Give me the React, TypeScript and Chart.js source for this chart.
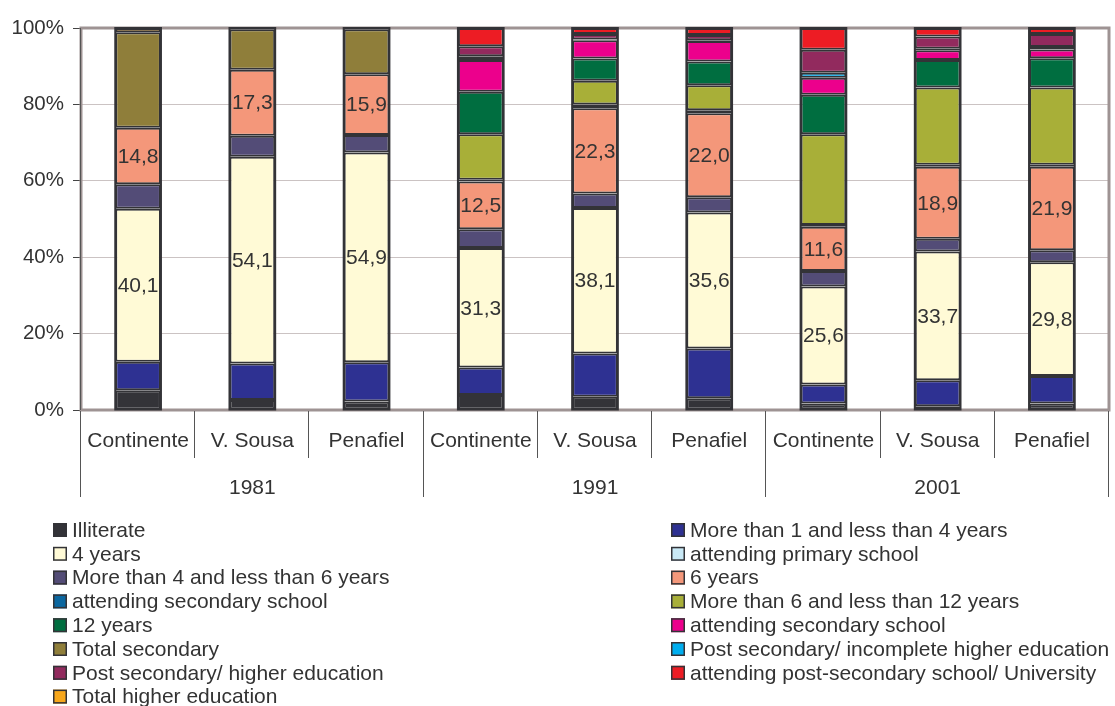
import React, { useEffect, useRef } from 'react';
import { Chart, registerables } from 'chart.js';

Chart.register(...registerables);

const categories = ['Continente', 'V. Sousa', 'Penafiel', 'Continente', 'V. Sousa', 'Penafiel', 'Continente', 'V. Sousa', 'Penafiel'];
const years = ['1981', '1991', '2001'];
const yTickValues = [0, 20, 40, 60, 80, 100];

const illiterate = [5.2, 2.6, 2.2, 3.9, 3.5, 3.1, 1.7, 1.0, 1.7];
const oneToFour = [7.4, 9.6, 10.3, 7.2, 11.3, 13.0, 5.0, 6.8, 7.2];
const fourYears = [40.1, 54.1, 54.9, 31.3, 38.1, 35.6, 25.6, 33.7, 29.8];
const attendingPrimary = [0, 0, 0, 0, 0, 0, 0, 0, 0];
const fourToSix = [6.4, 5.5, 4.6, 4.9, 3.8, 4.0, 4.1, 3.3, 3.1];
const sixYears = [14.8, 17.3, 15.9, 12.5, 22.3, 22.0, 11.6, 18.9, 21.9];
const attendingSecondaryA = [0, 0, 0, 0.5, 1.0, 0.8, 0.4, 0.5, 0.5];
const sixToTwelve = [0, 0, 0, 11.9, 6.2, 6.5, 23.8, 20.2, 20.2];
const twelveYears = [0, 0, 0, 11.1, 5.8, 6.2, 10.3, 7.2, 7.7];
const attendingSecondaryB = [0, 0, 0, 8.3, 4.8, 5.4, 4.5, 2.6, 2.3];
const totalSecondary = [25.0, 10.6, 11.8, 0, 0, 0, 0, 0, 0];
const postSecIncomplete = [0, 0, 0, 1.0, 0.2, 0.2, 1.3, 0.4, 0.6];
const postSecHigher = [0, 0, 0, 2.6, 1.4, 1.4, 6.0, 3.2, 3.4];
const attendingUniversity = [0, 0, 0, 4.8, 1.6, 1.8, 5.7, 2.2, 1.6];
const totalHigher = [1.1, 0.3, 0.3, 0, 0, 0, 0, 0, 0];

const seriesLabels = [
  'Illiterate',
  'More than 1 and less than 4 years',
  '4 years',
  'attending primary school',
  'More than 4 and less than 6 years',
  '6 years',
  'attending secondary school',
  'More than 6 and less than 12 years',
  '12 years',
  'attending secondary school',
  'Total secondary',
  'Post secondary/ incomplete higher education',
  'Post secondary/ higher education',
  'attending post-secondary school/ University',
  'Total higher education',
];
const seriesValues = [
  illiterate, oneToFour, fourYears, attendingPrimary, fourToSix, sixYears,
  attendingSecondaryA, sixToTwelve, twelveYears, attendingSecondaryB,
  totalSecondary, postSecIncomplete, postSecHigher, attendingUniversity, totalHigher,
];
const seriesColors = [
  '#333338', '#2E3192', '#FFFAD6', '#C9E9F6', '#534C77', '#F4977A',
  '#0B67A0', '#A8AF38', '#006E40', '#EC008C',
  '#8F7E3A', '#00AEEF', '#922A5E', '#ED1C24', '#F7A71C',
];
const labelledSeries = ['4 years', '6 years'];

const FONT = '"Liberation Sans", Arial, Helvetica, sans-serif';
const TEXT = '#333333';
const EDGE = '#333337';

const decorPlugin = {
  id: 'decor',
  beforeDatasetsDraw(chart: any) {
    const { ctx, chartArea: a } = chart;
    ctx.save();
    ctx.strokeStyle = '#9E9393';
    ctx.lineWidth = 3;
    ctx.strokeRect(a.left, a.top, a.right - a.left, a.bottom - a.top);
    ctx.restore();
  },
  afterDatasetsDraw(chart: any) {
    const { ctx } = chart;
    ctx.save();
    // outer outline of each stacked bar
    const n = chart.data.labels.length;
    for (let i = 0; i < n; i++) {
      let top = Infinity;
      let bottom = -Infinity;
      let left = 0;
      let right = 0;
      chart.data.datasets.forEach((d: any, di: number) => {
        const el: any = chart.getDatasetMeta(di).data[i];
        if (!el || d.data[i] == null) return;
        top = Math.min(top, el.y, el.base);
        bottom = Math.max(bottom, el.y, el.base);
        left = el.x - el.width / 2;
        right = el.x + el.width / 2;
      });
      if (top === Infinity) continue;
      ctx.strokeStyle = EDGE;
      ctx.lineWidth = 2;
      ctx.strokeRect(left, top, right - left, bottom - top);
    }
    // value labels
    ctx.font = `21px ${FONT}`;
    ctx.fillStyle = TEXT;
    ctx.textAlign = 'center';
    ctx.textBaseline = 'middle';
    chart.data.datasets.forEach((d: any, di: number) => {
      if (!labelledSeries.includes(d.label)) return;
      const meta = chart.getDatasetMeta(di);
      meta.data.forEach((el: any, i: number) => {
        const v = d.data[i];
        if (!v) return;
        const txt = Number(v).toFixed(1).replace('.', ',');
        ctx.fillText(txt, el.x, (el.y + el.base) / 2 + 1);
      });
    });
    ctx.restore();
  },
  afterDraw(chart: any) {
    const { ctx, chartArea: a } = chart;
    const xs = chart.scales.x;
    ctx.save();
    const half = (xs.getPixelForValue(1) - xs.getPixelForValue(0)) / 2;
    ctx.strokeStyle = '#555555';
    ctx.lineWidth = 1;
    for (let i = 0; i <= categories.length; i++) {
      const x = Math.round(xs.getPixelForValue(0) - half + i * half * 2) - 0.5;
      const long = i % 3 === 0;
      ctx.beginPath();
      ctx.moveTo(x, a.bottom + 1);
      ctx.lineTo(x, long ? 497 : 458);
      ctx.stroke();
    }
    ctx.beginPath();
    ctx.moveTo(a.left - 0.5, a.top);
    ctx.lineTo(a.left - 0.5, a.bottom);
    ctx.stroke();
    ctx.font = `21px ${FONT}`;
    ctx.fillStyle = TEXT;
    ctx.textAlign = 'center';
    ctx.textBaseline = 'middle';
    categories.forEach((c, i) => ctx.fillText(c, xs.getPixelForValue(i), 441));
    years.forEach((y, g) => {
      const cx = (xs.getPixelForValue(g * 3) + xs.getPixelForValue(g * 3 + 2)) / 2;
      ctx.fillText(y, cx, 488);
    });
    ctx.textAlign = 'left';
    chart.data.datasets.forEach((d: any, i: number) => {
      const col = i % 2;
      const row = Math.floor(i / 2);
      const bx = col === 0 ? 53 : 671;
      const cy = 530 + row * 23.8;
      ctx.fillStyle = d.backgroundColor;
      ctx.fillRect(bx, cy - 7, 14, 14);
      ctx.strokeStyle = EDGE;
      ctx.lineWidth = 1.5;
      ctx.strokeRect(bx + 0.75, cy - 6.25, 12.5, 12.5);
      ctx.fillStyle = TEXT;
      ctx.fillText(d.label, bx + 19, cy + 1);
    });
    ctx.restore();
  },
};

export default function App() {
  const ref = useRef<HTMLCanvasElement | null>(null);
  useEffect(() => {
    if (!ref.current) return;
    const chart = new Chart(ref.current, {
      type: 'bar',
      data: {
        labels: categories,
        datasets: seriesLabels.map((label, i) => ({
          label,
          data: seriesValues[i].map((v) => (v === 0 ? null : v)),
          backgroundColor: seriesColors[i],
          borderColor: EDGE,
          borderWidth: 2,
          borderSkipped: false,
          categoryPercentage: 1,
          barPercentage: 0.4,
        })),
      },
      options: {
        responsive: false,
        animation: false,
        devicePixelRatio: 1,
        layout: { padding: { left: 0, top: 28, right: 6, bottom: 296 } },
        plugins: {
          legend: { display: false },
          tooltip: { enabled: false },
        },
        scales: {
          x: {
            stacked: true,
            display: false,
          },
          y: {
            stacked: true,
            min: 0,
            max: 100,
            afterFit: (s: any) => { s.width = 81; },
            afterBuildTicks: (s: any) => { s.ticks = yTickValues.map((v) => ({ value: v })); },
            ticks: {
              callback: (v: any) => `${v}%`,
              font: { family: FONT, size: 20.5 },
              color: TEXT,
              padding: 9,
            },
            grid: {
              color: '#CBC3C3',
              lineWidth: 1,
              tickLength: 8,
              tickColor: '#444444',
              drawTicks: true,
            },
            border: { display: false },
          },
        },
      },
      plugins: [decorPlugin],
    } as any);
    return () => chart.destroy();
  }, []);
  return (
    <div style={{ position: 'absolute', left: 0, top: 0, width: 1115, height: 706, background: '#fff' }}>
      <canvas ref={ref} width={1115} height={706} style={{ display: 'block' }} />
    </div>
  );
}
